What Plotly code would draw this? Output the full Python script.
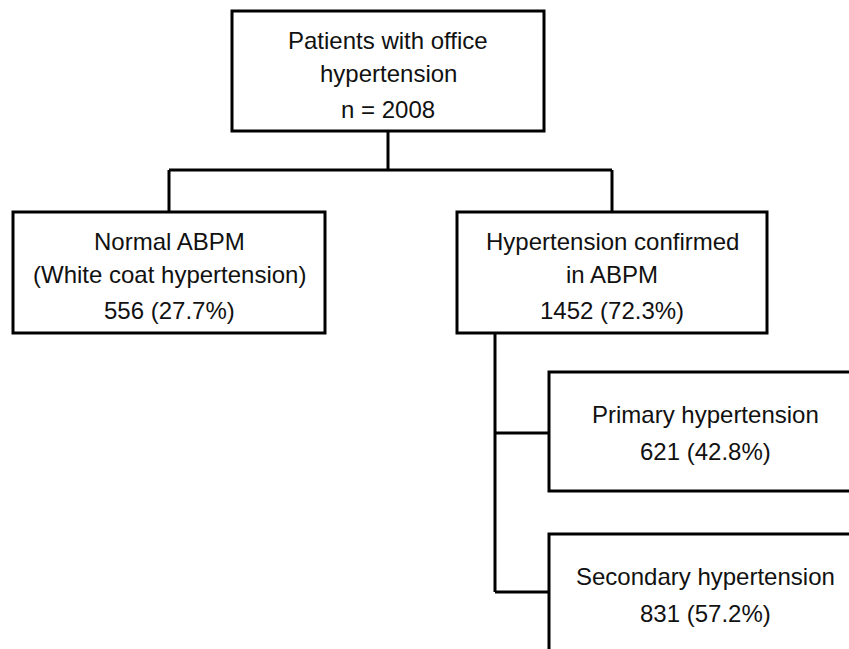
import plotly.graph_objects as go

# ---- data ----
box_labels = [
    ["Patients with office", "hypertension"],
    ["Normal ABPM", "(White coat hypertension)"],
    ["Hypertension confirmed", "in ABPM"],
    ["Primary hypertension"],
    ["Secondary hypertension"],
]
total_n = 2008
group_counts = [556, 1452, 621, 831]
group_percents = [27.7, 72.3, 42.8, 57.2]

# ---- layout geometry (pixels in a 849x649 canvas, y downward) ----
W, H = 849, 649
box_geom = [
    (232, 544, 11, 131),
    (13, 325, 212, 333),
    (457, 767, 212, 333),
    (549, 861, 372, 491),
    (549, 861, 534, 653),
]
# vertical offsets (from box top) of each text line
offsets_3 = [29, 62, 98]
offsets_2 = [42, 79]

connectors = [
    ((388, 131), (388, 170)),
    ((169, 170), (612, 170)),
    ((169, 170), (169, 212)),
    ((612, 170), (612, 212)),
    ((495, 333), (495, 592)),
    ((495, 433), (549, 433)),
    ((495, 592), (549, 592)),
]

FONT = dict(family="Liberation Sans, Arial, sans-serif", size=24, color="#111111")

count_texts = [f"n = {total_n}"] + [f"{c} ({p}%)" for c, p in zip(group_counts, group_percents)]

fig = go.Figure()
shapes = []
annotations = []
for (x0, x1, y0, y1), labels, ctext in zip(box_geom, box_labels, count_texts):
    shapes.append(dict(type="rect", xref="x", yref="y", x0=x0, x1=x1, y0=y0, y1=y1,
                       line=dict(color="black", width=3), fillcolor="white", layer="below"))
    lines = labels + [ctext]
    offs = offsets_3 if len(lines) == 3 else offsets_2
    cx = (x0 + x1) / 2
    for txt, off in zip(lines, offs):
        annotations.append(dict(x=cx, y=y0 + off, xref="x", yref="y", text=txt,
                                showarrow=False, font=FONT, xanchor="center", yanchor="middle"))

for (xa, ya), (xb, yb) in connectors:
    shapes.append(dict(type="line", xref="x", yref="y", x0=xa, y0=ya, x1=xb, y1=yb,
                       line=dict(color="black", width=3)))

# invisible trace to establish axes
fig.add_trace(go.Scatter(x=[0, W], y=[0, H], mode="markers", marker=dict(opacity=0),
                         hoverinfo="skip", showlegend=False))

fig.update_layout(
    width=W, height=H,
    margin=dict(l=0, r=0, t=0, b=0),
    paper_bgcolor="white", plot_bgcolor="white",
    shapes=shapes, annotations=annotations,
    xaxis=dict(range=[0, W], visible=False, fixedrange=True),
    yaxis=dict(range=[H, 0], visible=False, fixedrange=True),
    showlegend=False,
)

fig.write_html("out.html", config={"displayModeBar": False},
               post_script="document.body.style.margin='0';document.body.style.overflow='hidden';")
